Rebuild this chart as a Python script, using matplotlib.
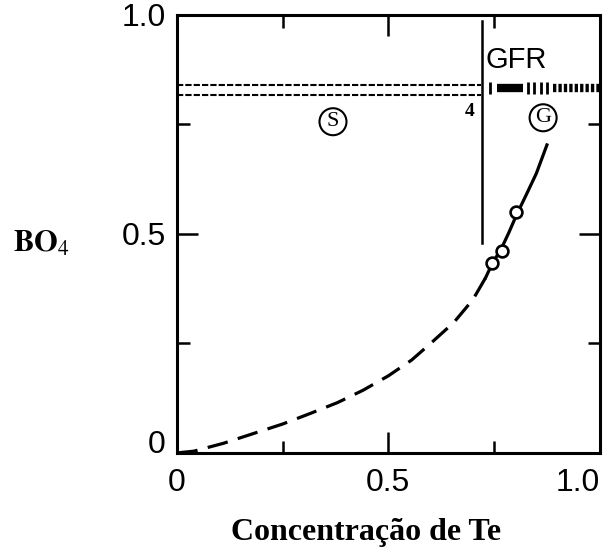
import matplotlib
matplotlib.use("Agg")
import matplotlib.pyplot as plt
from matplotlib.ticker import MultipleLocator

# dashed (calculated) part of the curve
calc_x = [0.0, 0.04, 0.11, 0.18, 0.25, 0.315, 0.38, 0.44, 0.50, 0.555, 0.60, 0.655, 0.70, 0.73]
calc_y = [0.0, 0.004, 0.022, 0.044, 0.066, 0.090, 0.115, 0.143, 0.176, 0.212, 0.250, 0.298, 0.350, 0.40]

# solid (glass forming) part of the curve
glass_x = [0.73, 0.745, 0.768, 0.785, 0.803, 0.825, 0.85, 0.875]
glass_y = [0.40, 0.431, 0.468, 0.503, 0.543, 0.587, 0.638, 0.703]

# measured points
meas_x = [0.745, 0.768, 0.803]
meas_y = [0.433, 0.461, 0.549]

# phase boundary / glass forming region markers
boundary_x = 0.722
boundary_y = [0.48, 0.985]
band_y_upper = 0.840
band_y_lower = 0.816
band_end = 0.72
gfr_bar = [0.756, 0.819]
gfr_ticks = [0.74, 0.83, 0.845, 0.86, 0.875]
gfr_hatch = [0.89, 1.0]
gfr_y = 0.833

fig = plt.figure(figsize=(6.04, 5.49), dpi=100)
ax = fig.add_axes([0.293, 0.175, 0.700, 0.798])

ax.plot(calc_x, calc_y, color="black", lw=2.3, dashes=(6.5, 3.3))
ax.plot(glass_x, glass_y, color="black", lw=2.3)
ax.plot(meas_x, meas_y, "o", ms=8.5, mfc="white", mec="black", mew=1.9)

ax.plot([boundary_x, boundary_x], boundary_y, color="black", lw=1.8)
ax.plot([0, band_end], [band_y_upper] * 2, color="black", lw=1.5, dashes=(3.0, 1.0))
ax.plot([0, band_end], [band_y_lower] * 2, color="black", lw=1.5, dashes=(3.0, 1.0))
ax.plot(gfr_bar, [gfr_y] * 2, color="black", lw=6, solid_capstyle="butt")
ax.plot(gfr_ticks, [gfr_y] * len(gfr_ticks), "|", color="black", ms=9, mew=2)
ax.plot(gfr_hatch, [gfr_y] * 2, color="black", lw=6, dashes=(0.4, 0.25))

ax.text(0.73, 0.897, "GFR", fontsize=21, family="Liberation Sans", va="center", ha="left")
ax.text(0.693, 0.779, "4", fontsize=14, family="Liberation Serif", weight="bold",
        va="center", ha="center")
circle = dict(boxstyle="circle,pad=0.18", fc="white", ec="black", lw=1.5)
ax.text(0.369, 0.756, "S", fontsize=16, family="Liberation Serif", va="center",
        ha="center", bbox=circle)
ax.text(0.866, 0.765, "G", fontsize=16, family="Liberation Serif", va="center",
        ha="center", bbox=circle)

ax.set_xlim(0, 1.0)
ax.set_ylim(0, 1.0)
ax.xaxis.set_minor_locator(MultipleLocator(0.25))
ax.yaxis.set_minor_locator(MultipleLocator(0.25))
ax.set_xticks([0, 0.5, 1.0])
ax.set_xticklabels(["0", "0.5", "1.0"])
ax.set_yticks([0, 0.5, 1.0])
ax.set_yticklabels(["0", "0.5", "1.0"])
ax.tick_params(which="both", direction="in", top=True, right=True, width=1.8)
ax.tick_params(which="major", length=15, labelsize=23, pad=8)
ax.tick_params(which="minor", length=9)
ax.tick_params(axis="x", which="major", pad=11)
for lab in ax.get_xticklabels() + ax.get_yticklabels():
    lab.set_family("Liberation Sans")
ax.get_xticklabels()[-1].set_horizontalalignment("right")
ax.get_yticklabels()[0].set_verticalalignment("baseline")
for sp in ax.spines.values():
    sp.set_linewidth(2.2)

fig.text(0.068, 0.557, r"$\mathbf{BO}_4$", fontsize=22, ha="center", va="center",
         math_fontfamily="stix")
fig.text(0.606, 0.03, "Concentração de Te", fontsize=23, family="Liberation Serif",
         weight="bold", ha="center", va="center")

fig.savefig("out.png", dpi=100)
